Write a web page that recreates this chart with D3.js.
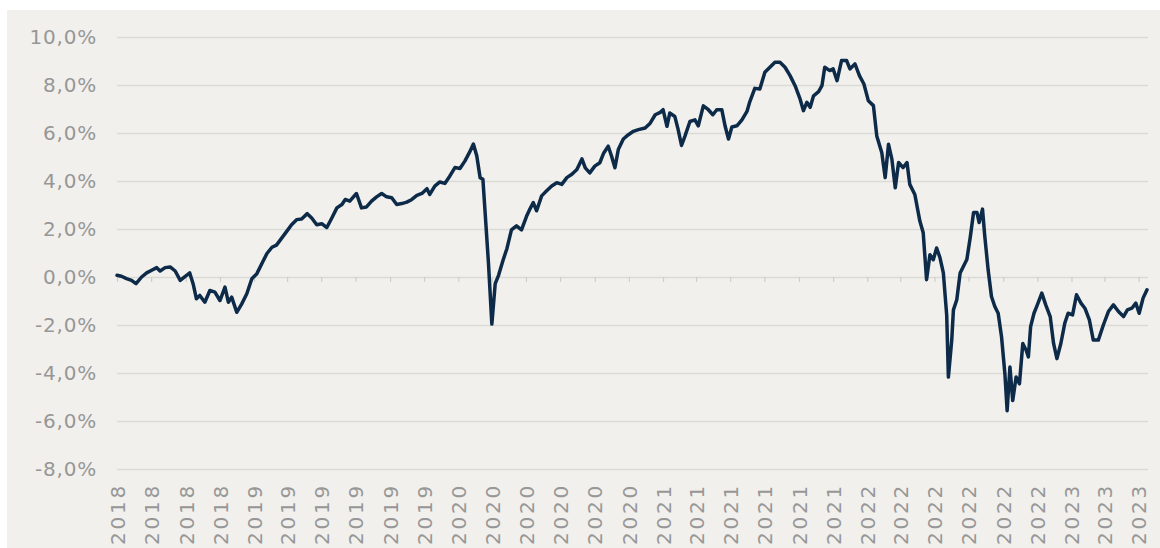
<!DOCTYPE html>
<html>
<head>
<meta charset="utf-8">
<script src="https://cdn.jsdelivr.net/npm/d3@7"></script>
<style>
  html, body { margin: 0; padding: 0; background: #ffffff; }
  svg { display: block; }
  .tick text { font-family: "DejaVu Sans", sans-serif; fill: #979797; }
</style>
</head>
<body>
<svg id="chart" width="1160" height="548"></svg>
<script>
// series start (first tick) and span in days
const startDate = new Date(2018, 4, 1);
const spanDays = 1841;

// days since startDate
const dayOffsets = [
  0, 8, 17, 26, 34, 44, 53, 62, 71, 77, 86, 95, 104, 113, 122, 130, 136, 142, 148, 157,
  166, 175, 184, 193, 199, 205, 214, 223, 232, 241, 250, 259, 268, 277, 285, 294, 303, 312, 321, 330,
  340, 348, 357, 366, 375, 384, 393, 402, 408, 416, 428, 437, 446, 455, 464, 473, 482, 491, 500, 509,
  518, 527, 536, 545, 554, 559, 568, 577, 586, 595, 604, 613, 622, 630, 637, 643, 649, 654, 658, 664,
  670, 676, 682, 690, 697, 705, 714, 723, 732, 738, 744, 750, 759, 768, 777, 786, 795, 804, 813, 822,
  831, 837, 845, 854, 863, 870, 878, 884, 890, 896, 905, 914, 923, 932, 944, 953, 962, 971, 976, 983,
  988, 997, 1003, 1009, 1015, 1024, 1033, 1039, 1048, 1057, 1065, 1072, 1081, 1087, 1093, 1099, 1108, 1117, 1126, 1131,
  1140, 1149, 1158, 1167, 1176, 1185, 1194, 1203, 1212, 1221, 1227, 1233, 1239, 1245, 1254, 1260, 1265, 1274, 1280, 1287,
  1295, 1304, 1310, 1319, 1327, 1335, 1343, 1352, 1358, 1367, 1373, 1379, 1385, 1391, 1397, 1405, 1412, 1417, 1426, 1435,
  1441, 1447, 1453, 1459, 1465, 1471, 1477, 1483, 1486, 1492, 1495, 1501, 1507, 1513, 1519, 1525, 1531, 1537, 1541, 1547,
  1551, 1557, 1563, 1569, 1575, 1581, 1587, 1591, 1596, 1601, 1607, 1613, 1619, 1625, 1629, 1633, 1639, 1645, 1653, 1660,
  1668, 1674, 1680, 1687, 1694, 1700, 1708, 1715, 1723, 1730, 1738, 1745, 1754, 1763, 1772, 1781, 1790, 1799, 1806, 1814,
  1821, 1827, 1834, 1841
];

// percent
const values = [
  0.07, 0.03, -0.07, -0.14, -0.28, 0.00, 0.17, 0.28, 0.39, 0.25, 0.39, 0.42, 0.25, -0.14, 0.03, 0.17, -0.28, -0.91, -0.77, -1.05,
  -0.56, -0.63, -0.98, -0.42, -1.05, -0.84, -1.47, -1.12, -0.70, -0.07, 0.14, 0.56, 0.98, 1.24, 1.33, 1.61, 1.89, 2.18, 2.39, 2.42,
  2.64, 2.46, 2.18, 2.22, 2.06, 2.46, 2.88, 3.02, 3.23, 3.16, 3.48, 2.88, 2.92, 3.16, 3.34, 3.48, 3.34, 3.30, 3.02, 3.06,
  3.12, 3.23, 3.40, 3.48, 3.68, 3.44, 3.79, 3.96, 3.90, 4.21, 4.56, 4.52, 4.84, 5.19, 5.54, 5.05, 4.14, 4.07, 2.67, 0.56,
  -1.96, -0.28, 0.07, 0.70, 1.19, 1.96, 2.13, 1.96, 2.53, 2.83, 3.10, 2.76, 3.38, 3.59, 3.79, 3.93, 3.86, 4.14, 4.28, 4.48,
  4.92, 4.55, 4.34, 4.62, 4.76, 5.17, 5.45, 5.03, 4.55, 5.31, 5.75, 5.93, 6.07, 6.14, 6.21, 6.41, 6.76, 6.86, 6.97, 6.28,
  6.83, 6.69, 6.14, 5.48, 5.86, 6.48, 6.55, 6.30, 7.13, 6.97, 6.76, 6.97, 6.97, 6.28, 5.75, 6.25, 6.30, 6.55, 6.90, 7.30,
  7.86, 7.83, 8.53, 8.74, 8.95, 8.95, 8.74, 8.39, 7.97, 7.41, 6.93, 7.28, 7.07, 7.55, 7.72, 7.97, 8.74, 8.60, 8.67, 8.18,
  9.02, 9.02, 8.67, 8.88, 8.39, 8.04, 7.34, 7.14, 5.88, 5.18, 4.14, 5.53, 4.91, 3.72, 4.77, 4.56, 4.77, 3.86, 3.44, 2.33,
  1.84, -0.11, 0.93, 0.72, 1.21, 0.80, 0.17, -1.60, -4.17, -2.63, -1.37, -0.95, 0.17, 0.45, 0.73, 1.64, 2.69, 2.69, 2.27, 2.83,
  1.71, 0.31, -0.81, -1.23, -1.51, -2.49, -4.03, -5.57, -3.75, -5.15, -4.17, -4.45, -2.77, -3.05, -3.33, -2.07, -1.51, -1.16, -0.67, -1.16,
  -1.65, -2.77, -3.40, -2.77, -1.93, -1.51, -1.58, -0.74, -1.09, -1.30, -1.79, -2.63, -2.63, -2.00, -1.44, -1.16, -1.44, -1.65, -1.37, -1.30,
  -1.09, -1.51, -0.88, -0.53
];

const yTicks = [-8, -6, -4, -2, 0, 2, 4, 6, 8, 10];

// one label every two months, from May 2018 to May 2023
const xTickLabels = [
  "2018", "2018", "2018", "2018",
  "2019", "2019", "2019", "2019", "2019", "2019",
  "2020", "2020", "2020", "2020", "2020", "2020",
  "2021", "2021", "2021", "2021", "2021", "2021",
  "2022", "2022", "2022", "2022", "2022", "2022",
  "2023", "2023", "2023"
];

const data = dayOffsets.map((d, i) => ({ date: d3.timeDay.offset(startDate, d), value: values[i] }));
const endDate = d3.timeDay.offset(startDate, spanDays);
const tickDates = xTickLabels.map((_, i) => d3.timeMonth.offset(startDate, i * 2));

const svg = d3.select("#chart");
const plotLeft = 117, plotRight = 1147, plotTop = 37, plotBottom = 469;

svg.append("rect")
  .attr("x", 7).attr("y", 10)
  .attr("width", 1153).attr("height", 538)
  .attr("fill", "#f1f0ec");

const x = d3.scaleTime().domain([startDate, endDate]).range([plotLeft, plotRight]);
const y = d3.scaleLinear().domain([-8, 10]).range([plotBottom, plotTop]);

const locale = d3.formatLocale({ decimal: ",", thousands: ".", grouping: [3], currency: ["", "€"], minus: "-" });
const fmt = locale.format(".1f");

// gridlines
svg.append("g")
  .attr("transform", `translate(${plotLeft},0)`)
  .call(d3.axisLeft(y).tickValues(yTicks).tickSize(-(plotRight + 1 - plotLeft)).tickFormat(""))
  .call(g => g.select(".domain").remove())
  .call(g => g.selectAll(".tick line").attr("stroke", "#dbdad5").attr("stroke-width", 1.6));

// y labels
svg.append("g")
  .attr("transform", `translate(${plotLeft},0)`)
  .call(d3.axisLeft(y).tickValues(yTicks).tickSize(0).tickPadding(20).tickFormat(d => fmt(d) + "%"))
  .call(g => g.select(".domain").remove())
  .call(g => g.selectAll(".tick text")
    .attr("font-size", 20)
    .attr("letter-spacing", 0.8));

// small ticks on the zero line
svg.append("g")
  .attr("transform", `translate(0,${y(0)})`)
  .call(d3.axisBottom(x).tickValues(tickDates).tickSize(5).tickFormat(""))
  .call(g => g.select(".domain").remove())
  .call(g => g.selectAll(".tick line").attr("stroke", "#cfcec9").attr("stroke-width", 1.2));

// x labels, rotated
svg.append("g")
  .attr("transform", `translate(0,${plotBottom})`)
  .call(d3.axisBottom(x).tickValues(tickDates).tickSize(0).tickFormat((d, i) => xTickLabels[i]))
  .call(g => g.select(".domain").remove())
  .call(g => g.selectAll(".tick text")
    .attr("font-size", 20)
    .attr("letter-spacing", 2.8)
    .attr("transform", "rotate(-90)")
    .attr("text-anchor", "end")
    .attr("x", -14)
    .attr("y", 0)
    .attr("dy", "0.36em"));

const line = d3.line()
  .x(d => x(d.date))
  .y(d => y(d.value));

svg.append("path")
  .datum(data)
  .attr("fill", "none")
  .attr("stroke", "#0d2b49")
  .attr("stroke-width", 3.5)
  .attr("stroke-linejoin", "round")
  .attr("stroke-linecap", "round")
  .attr("d", line);
</script>
</body>
</html>
